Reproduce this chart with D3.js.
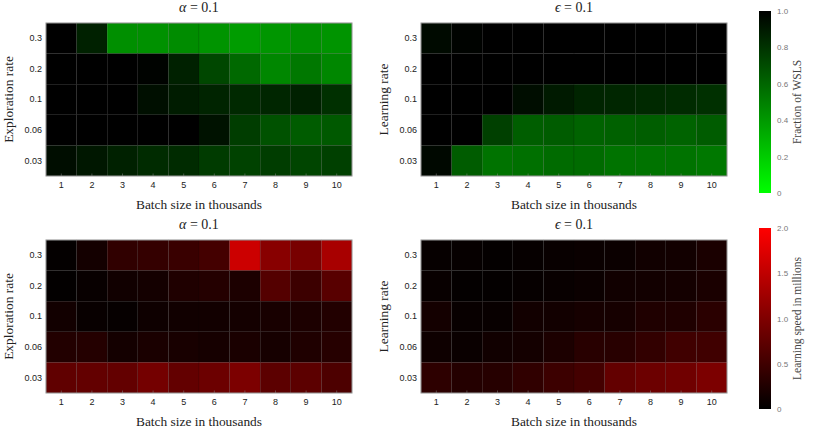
<!DOCTYPE html>
<html>
<head>
<meta charset="utf-8">
<script src="https://cdn.jsdelivr.net/npm/d3@7"></script>
<style>
  body { margin: 0; background: #fff; }
  .tick text { font-family: "Liberation Sans", Arial, sans-serif; font-size: 9px; fill: #222; }
  .cbar .tick text { font-size: 8px; fill: #777; }
  .serif { font-family: "Liberation Serif", "DejaVu Serif", serif; fill: #222; }
</style>
</head>
<body>
<script>
// batch sizes (thousands) along x, rates along y (top to bottom)
var batchSizes = ["1", "2", "3", "4", "5", "6", "7", "8", "9", "10"]
var rates = ["0.3", "0.2", "0.1", "0.06", "0.03"]

// fraction of WSLS, alpha = 0.1, rows = exploration rate
var wslsAlpha = [
  [1.00, 0.87, 0.44, 0.43, 0.45, 0.42, 0.39, 0.41, 0.44, 0.42],
  [1.00, 1.00, 1.00, 0.99, 0.87, 0.72, 0.59, 0.47, 0.53, 0.47],
  [1.00, 1.00, 1.00, 0.94, 0.89, 0.86, 0.84, 0.85, 0.87, 0.81],
  [1.00, 1.00, 1.00, 1.00, 1.00, 0.93, 0.76, 0.68, 0.64, 0.65],
  [0.95, 0.91, 0.87, 0.83, 0.83, 0.77, 0.74, 0.76, 0.73, 0.75]
]
// fraction of WSLS, epsilon = 0.1, rows = learning rate
var wslsEps = [
  [0.96, 0.99, 1.00, 1.00, 1.00, 1.00, 1.00, 1.00, 1.00, 1.00],
  [1.00, 1.00, 1.00, 1.00, 1.00, 1.00, 1.00, 1.00, 1.00, 1.00],
  [1.00, 1.00, 1.00, 0.95, 0.90, 0.86, 0.85, 0.84, 0.83, 0.81],
  [1.00, 1.00, 0.75, 0.63, 0.64, 0.61, 0.62, 0.63, 0.61, 0.64],
  [0.97, 0.64, 0.55, 0.56, 0.58, 0.58, 0.55, 0.55, 0.55, 0.53]
]
// learning speed in millions, alpha = 0.1
var speedAlpha = [
  [0.03, 0.16, 0.38, 0.41, 0.45, 0.53, 1.60, 1.07, 0.94, 1.32],
  [0.02, 0.06, 0.13, 0.16, 0.24, 0.28, 0.22, 0.66, 0.47, 0.69],
  [0.14, 0.06, 0.05, 0.11, 0.13, 0.14, 0.16, 0.19, 0.22, 0.27],
  [0.27, 0.28, 0.16, 0.20, 0.19, 0.17, 0.20, 0.17, 0.24, 0.30],
  [0.75, 0.78, 0.78, 0.91, 0.78, 0.85, 0.97, 0.72, 0.72, 0.60]
]
// learning speed in millions, epsilon = 0.1
var speedEps = [
  [0.05, 0.05, 0.03, 0.05, 0.06, 0.08, 0.09, 0.13, 0.14, 0.20],
  [0.06, 0.03, 0.03, 0.05, 0.06, 0.09, 0.13, 0.14, 0.16, 0.20],
  [0.16, 0.06, 0.06, 0.14, 0.14, 0.17, 0.17, 0.24, 0.24, 0.33],
  [0.11, 0.08, 0.13, 0.16, 0.22, 0.31, 0.31, 0.39, 0.50, 0.50],
  [0.35, 0.28, 0.30, 0.38, 0.47, 0.53, 0.78, 0.85, 0.88, 0.97]
]

var wslsTicks = [0, 0.2, 0.4, 0.6, 0.8, 1.0]
var speedTicks = [0, 0.5, 1.0, 1.5, 2.0]

var svg = d3.select("body").append("svg")
  .attr("width", 814)
  .attr("height", 434)

var greenColour = d3.scaleLinear().domain([0, 1]).range(["#00ff00", "#000000"])
var redColour = d3.scaleLinear().domain([0, 2]).range(["#000000", "#ff0000"])

function drawPanel(x0, x1, y0, y1, values, colour, param, yTitle){
  var xScale = d3.scaleBand().domain(batchSizes).range([x0, x1])
  var yScale = d3.scaleBand().domain(rates).range([y0, y1])

  var g = svg.append("g")

  var cells = []
  values.forEach(function(row, i){
    row.forEach(function(v, j){
      cells.push({x: batchSizes[j], y: rates[i], v: v})
    })
  })

  g.selectAll("rect.cell")
    .data(cells)
    .enter()
      .append("rect")
      .attr("class", "cell")
      .attr("x", function(d){return xScale(d.x)})
      .attr("y", function(d){return yScale(d.y)})
      .attr("width", xScale.bandwidth())
      .attr("height", yScale.bandwidth())
      .attr("fill", function(d){return colour(d.v)})
      .attr("stroke", "rgba(0,0,0,0.18)")
      .attr("stroke-width", 0.6)

  g.append("rect")
    .attr("x", x0).attr("y", y0)
    .attr("width", x1 - x0).attr("height", y1 - y0)
    .attr("fill", "none")
    .attr("stroke", "#9a9a9a")
    .attr("stroke-width", 1)

  var xAxis = d3.axisBottom(xScale).tickSize(-2.5).tickPadding(6)
  g.append("g")
    .attr("transform", "translate(0," + y1 + ")")
    .call(xAxis)
    .call(function(a){
      a.select(".domain").remove()
      a.selectAll(".tick line").attr("stroke", "#888").attr("stroke-width", 0.5)
    })

  var yAxis = d3.axisLeft(yScale).tickSize(0).tickPadding(4)
  g.append("g")
    .attr("transform", "translate(" + x0 + ",0)")
    .call(yAxis)
    .call(function(a){ a.select(".domain").remove() })

  var title = g.append("text")
    .attr("class", "serif")
    .attr("x", (x0 + x1) / 2)
    .attr("y", y0 - 11)
    .attr("text-anchor", "middle")
    .attr("font-size", 14)
  title.append("tspan").attr("font-style", "italic").text(param)
  title.append("tspan").text(" = 0.1")

  g.append("text")
    .attr("class", "serif")
    .attr("x", (x0 + x1) / 2)
    .attr("y", y1 + 33)
    .attr("text-anchor", "middle")
    .attr("font-size", 13.4)
    .text("Batch size in thousands")

  g.append("text")
    .attr("class", "serif")
    .attr("transform", "translate(" + (x0 - 33) + "," + ((y0 + y1) / 2) + ") rotate(-90)")
    .attr("text-anchor", "middle")
    .attr("font-size", 13.4)
    .text(yTitle)
}

function drawColourbar(id, x0, y0, y1, domain, ticks, stops, label){
  var grad = svg.append("defs").append("linearGradient")
    .attr("id", id)
    .attr("x1", 0).attr("y1", 1).attr("x2", 0).attr("y2", 0)
  grad.append("stop").attr("offset", 0).attr("stop-color", stops[0])
  grad.append("stop").attr("offset", 1).attr("stop-color", stops[1])

  var scale = d3.scaleLinear().domain(domain).range([y1, y0])

  svg.append("rect")
    .attr("x", x0).attr("y", y0)
    .attr("width", 12).attr("height", y1 - y0)
    .attr("fill", "url(#" + id + ")")

  var axis = d3.axisRight(scale)
    .tickValues(ticks)
    .tickSize(0)
    .tickPadding(6)
    .tickFormat(function(d){return d === 0 ? "0" : d3.format(".1f")(d)})

  svg.append("g")
    .attr("class", "cbar")
    .attr("transform", "translate(" + (x0 + 12) + ",0)")
    .call(axis)
    .call(function(a){ a.select(".domain").remove() })

  svg.append("text")
    .attr("class", "serif")
    .attr("transform", "translate(" + (x0 + 42) + "," + ((y0 + y1) / 2) + ") rotate(-90)")
    .attr("text-anchor", "middle")
    .attr("font-size", 11.5)
    .attr("fill", "#444")
    .style("fill", "#444")
    .text(label)
}

drawPanel(46, 352, 23, 176, wslsAlpha, greenColour, "α", "Exploration rate")
drawPanel(421, 727, 23, 176, wslsEps, greenColour, "ϵ", "Learning rate")
drawPanel(46, 352, 240, 393, speedAlpha, redColour, "α", "Exploration rate")
drawPanel(421, 727, 240, 393, speedEps, redColour, "ϵ", "Learning rate")

drawColourbar("gGreen", 759, 11, 193, [0, 1], wslsTicks, ["#00ff00", "#000000"], "Fraction of WSLS")
drawColourbar("gRed", 759, 228, 409, [0, 2], speedTicks, ["#000000", "#ff0000"], "Learning speed in millions")
</script>
</body>
</html>
